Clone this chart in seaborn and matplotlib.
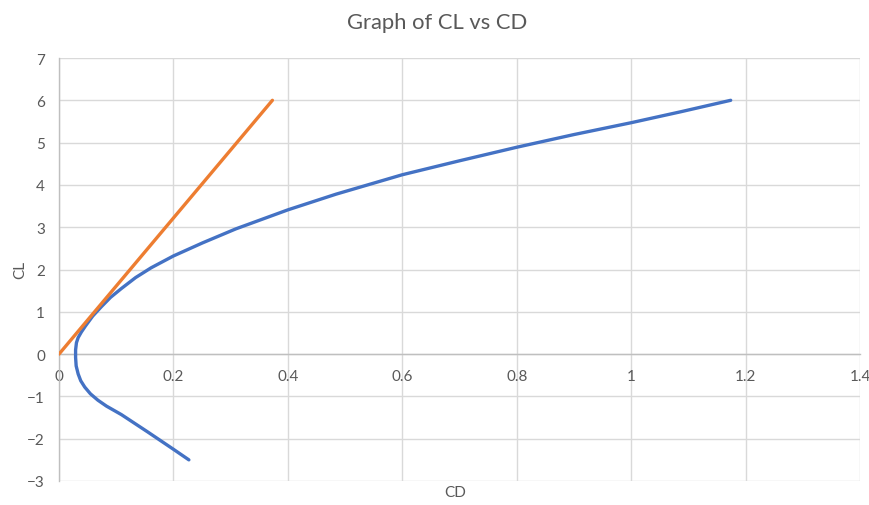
import numpy as np
import pandas as pd
import matplotlib
matplotlib.use("Agg")
import matplotlib.pyplot as plt
import seaborn as sns

# Data
polar_cd = [0.227, 0.200, 0.155, 0.109, 0.083, 0.068, 0.055, 0.045, 0.038, 0.0335,
            0.030, 0.029, 0.029, 0.0305, 0.0335, 0.039, 0.046, 0.059, 0.074, 0.090,
            0.109, 0.134, 0.161, 0.200, 0.251, 0.309, 0.400, 0.484, 0.600, 0.700,
            0.800, 0.900, 1.000, 1.087, 1.174]
polar_cl = [-2.50, -2.25, -1.84, -1.43, -1.23, -1.09, -0.94, -0.78, -0.63, -0.47,
            -0.28, -0.08, 0.10, 0.27, 0.39, 0.52, 0.66, 0.90, 1.12, 1.34,
            1.55, 1.81, 2.04, 2.32, 2.63, 2.96, 3.41, 3.78, 4.24, 4.57,
            4.89, 5.19, 5.47, 5.73, 6.00]
tangent_cd = [0.0, 0.373]
tangent_cl = [0.0, 6.0]

x_ticks = [0, 0.2, 0.4, 0.6, 0.8, 1, 1.2, 1.4]
x_tick_labels = ["0", "0.2", "0.4", "0.6", "0.8", "1", "1.2", "1.4"]
y_ticks = [-3, -2, -1, 0, 1, 2, 3, 4, 5, 6, 7]

sns.set_theme(style="white")
plt.rcParams["font.family"] = ["Lato", "DejaVu Sans"]

fig = plt.figure(figsize=(8.7, 5.06), dpi=100)
ax = fig.add_axes([59 / 870, 1 - 482 / 506, (860 - 59) / 870, (482 - 59) / 506])

polar = pd.DataFrame({"CD": polar_cd, "CL": polar_cl})
tangent = pd.DataFrame({"CD": tangent_cd, "CL": tangent_cl})

sns.lineplot(data=polar, x="CD", y="CL", sort=False, estimator=None,
             color="#4472C4", linewidth=2.4, ax=ax, zorder=3)
sns.lineplot(data=tangent, x="CD", y="CL", sort=False, estimator=None,
             color="#ED7D31", linewidth=2.4, ax=ax, zorder=4)
for ln in ax.get_lines():
    ln.set_solid_joinstyle("round")
    ln.set_solid_capstyle("round")

ax.set_xlim(0, 1.4)
ax.set_ylim(-3, 7)
ax.set_xticks(x_ticks)
ax.set_xticklabels(x_tick_labels)
ax.set_yticks(y_ticks)

ax.grid(True, color="#d9d9d9", linewidth=1.0)
ax.set_axisbelow(True)
for s in ["top", "right"]:
    ax.spines[s].set_visible(False)
ax.spines["bottom"].set_position(("data", 0))
ax.spines["bottom"].set_color("#bfbfbf")
ax.spines["left"].set_color("#bfbfbf")
ax.spines["bottom"].set_linewidth(1.0)
ax.spines["left"].set_linewidth(1.0)
ax.spines["bottom"].set_zorder(2)

ax.tick_params(axis="x", length=0, pad=11, labelsize=11, labelcolor="#595959")
ax.tick_params(axis="y", length=0, pad=10, labelsize=11, labelcolor="#595959")

ax.set_xlabel("")
ax.set_ylabel("")
fig.text(455 / 870, 1 - 493 / 506, "CD", ha="center", va="center",
         fontsize=11, color="#595959")
fig.text(20 / 870, 1 - 270 / 506, "CL", ha="center", va="center",
         rotation=90, fontsize=11, color="#595959")
fig.text(437 / 870, 1 - 23 / 506, "Graph of CL vs CD", ha="center", va="center",
         fontsize=15.8, color="#595959")

fig.savefig("out.png", dpi=100)
